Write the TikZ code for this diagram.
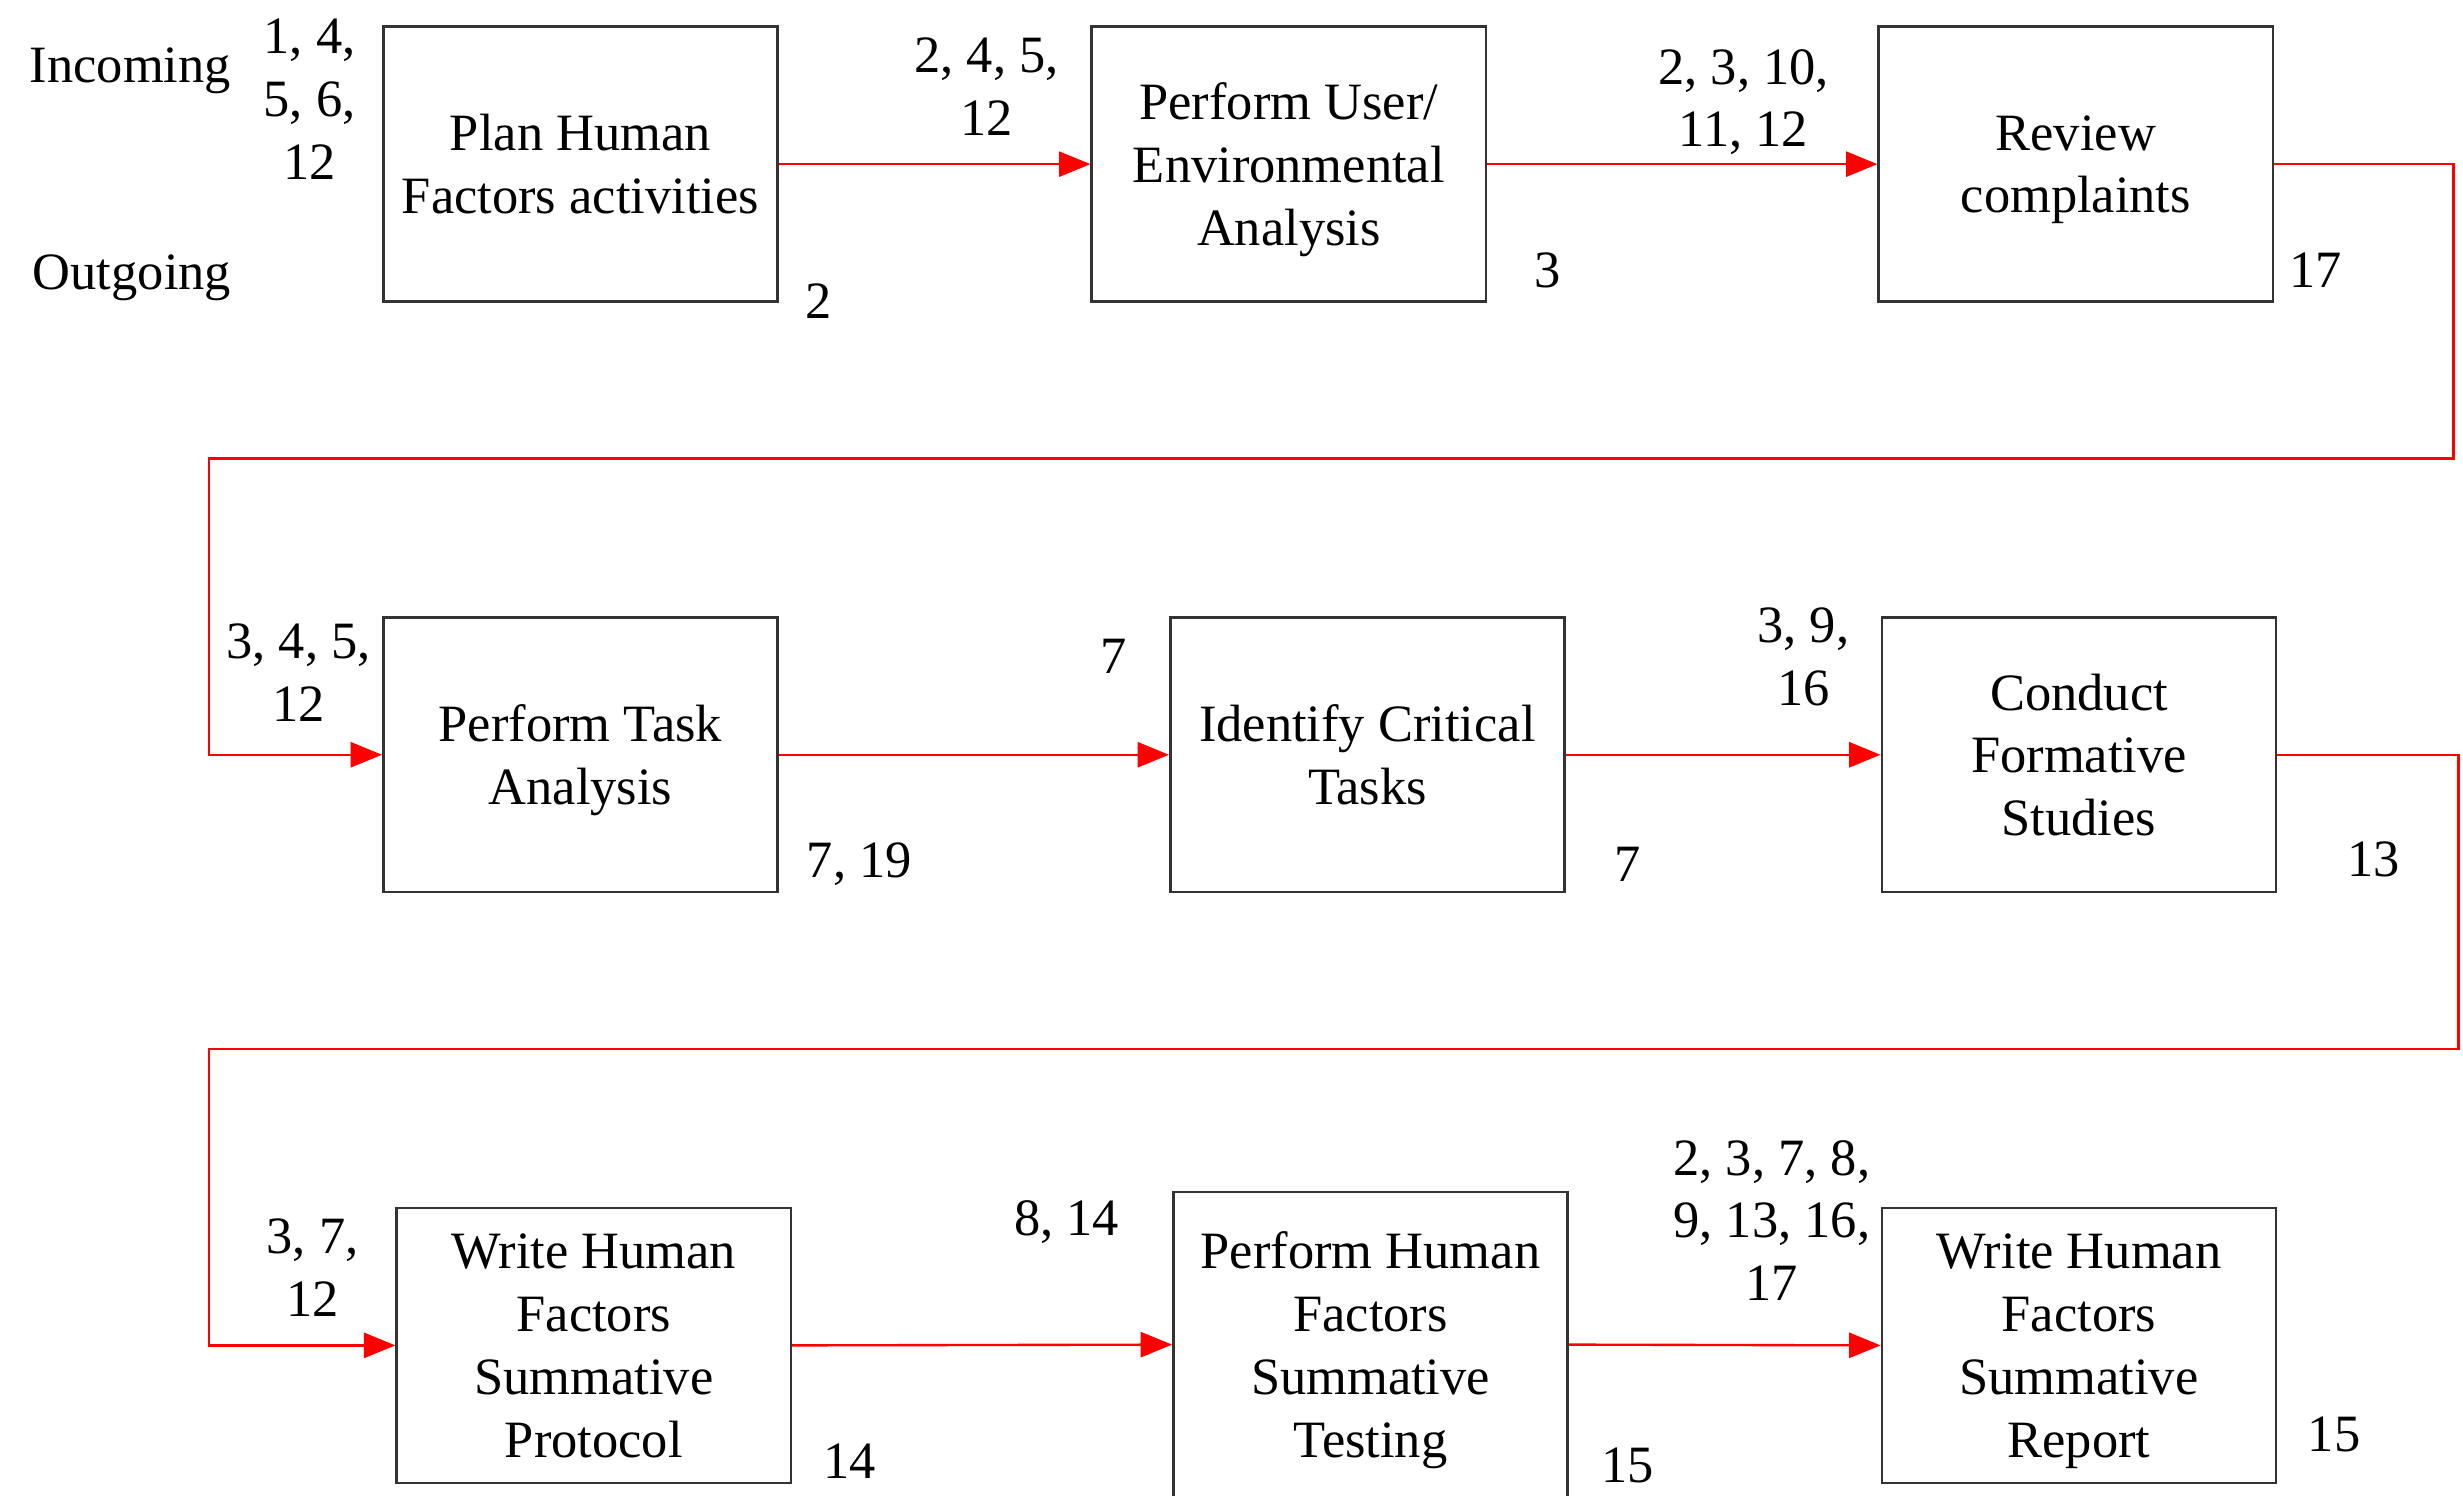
\documentclass[tikz,border=0pt]{standalone}
\usepackage{fontspec}
\setmainfont{Liberation Serif}
\usetikzlibrary{arrows.meta}
\begin{document}
\begin{tikzpicture}[x=0.5pt,y=-0.5pt,
  every node/.style={font=\fontsize{16.7}{20}\selectfont, inner sep=0pt, align=center},
  stepbox/.style={draw=black!80, line width=0.8pt, minimum width=125.5pt, minimum height=87.5pt, text depth=0pt},
  flow/.style={draw=red, line width=0.75pt, -{Triangle[length=10pt,width=8pt]}},
  lbl/.style={}]
\useasboundingbox (0,0) rectangle (1568,952);
\begin{scope}
\clip (0,0) rectangle (1568,952);

% process steps, row by row
\node[stepbox] (b1) at (369.5,104.5) {Plan Human\\Factors activities};
\node[stepbox] (b2) at (820.5,104.5) {Perform User/\\Environmental\\Analysis};
\node[stepbox] (b3) at (1321.5,104.5) {Review\\complaints};

\node[stepbox] (b4) at (369.5,480.5) {Perform Task\\Analysis};
\node[stepbox] (b5) at (870.5,480.5) {Identify Critical\\Tasks};
\node[stepbox] (b6) at (1323.5,480.5) {Conduct\\Formative\\Studies};

\node[stepbox] (b7) at (378,856.5) {Write Human\\Factors\\Summative\\Protocol};
\node[stepbox, minimum height=97pt] (b8) at (872.5,856) {Perform Human\\Factors\\Summative\\Testing};
\node[stepbox] (b9) at (1323.5,856.5) {Write Human\\Factors\\Summative\\Report};

% turn points of the row-to-row returns
\coordinate (r1) at (1562,292);
\coordinate (l1) at (133,292);
\coordinate (r2) at (1565,668);
\coordinate (l2) at (133,668);

% flow connectors
\draw[flow] (b1.east) -- (b2.west);
\draw[flow] (b2.east) -- (b3.west);
\draw[flow] (b3.east) -| (r1) -- (l1) |- (b4.west);
\draw[flow] (b4.east) -- (b5.west);
\draw[flow] (b5.east) -- (b6.west);
\draw[flow] (b6.east) -| (r2) -- (l2) |- (b7.west);
\draw[flow] (b7.east) -- (b8.west);
\draw[flow] (b8.east) -- (b9.west);

% legend
\node[lbl] (inc) at (83,45) {Incoming};
\node[lbl] (out) at (84,177) {Outgoing};

% incoming / outgoing item numbers
\node[lbl] (i1) at (197,63) {1, 4,\\5, 6,\\12};
\node[lbl] (o1) at (521,192) {2};
\node[lbl] (i2) at (628,55) {2, 4, 5,\\12};
\node[lbl] (o2) at (985,172) {3};
\node[lbl] (i3) at (1110,65) {2, 3, 10,\\11, 12};
\node[lbl] (o3) at (1474,172) {17};

\node[lbl] (i4) at (190,428) {3, 4, 5,\\12};
\node[lbl] (o4) at (547,550) {7, 19};
\node[lbl] (i5) at (709,418) {7};
\node[lbl] (o5) at (1036,550) {7};
\node[lbl] (i6) at (1148,418) {3, 9,\\16};
\node[lbl] (o6) at (1511,547) {13};

\node[lbl] (i7) at (199,807) {3, 7,\\12};
\node[lbl] (o7) at (541,930) {14};
\node[lbl] (i8) at (679,778) {8, 14};
\node[lbl] (o8) at (1036,933) {15};
\node[lbl] (i9) at (1128,777) {2, 3, 7, 8,\\9, 13, 16,\\17};
\node[lbl] (o9) at (1486,913) {15};
\end{scope}
\end{tikzpicture}
\end{document}
